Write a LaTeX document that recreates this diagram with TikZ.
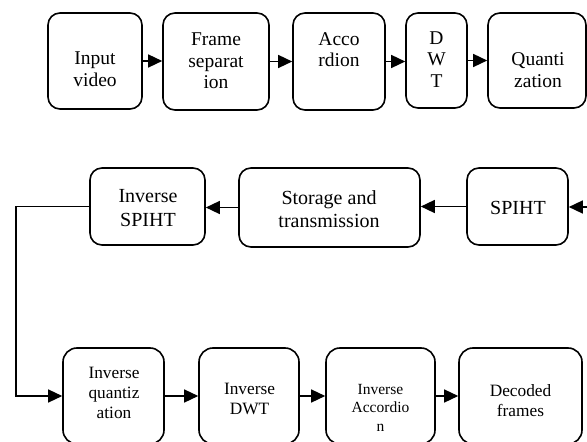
\documentclass[tikz,border=0pt]{standalone}
\usepackage{fontspec}
\setmainfont{Liberation Serif}
\usetikzlibrary{arrows.meta}
\begin{document}
\begin{tikzpicture}[x=1bp,y=-1bp,
  blk/.style={draw=black,line width=1.6bp,rounded corners=12bp,rectangle,inner sep=0pt},
  lblA/.style={align=center,inner sep=0pt,font=\fontsize{19.5bp}{21.5bp}\selectfont},
  lblB/.style={align=center,inner sep=0pt,font=\fontsize{20bp}{23.5bp}\selectfont},
  lblC/.style={align=center,inner sep=0pt,font=\fontsize{17.3bp}{20bp}\selectfont},
  lblD/.style={align=center,inner sep=0pt,font=\fontsize{15.5bp}{18.2bp}\selectfont},
  arr/.style={line width=1.4bp,-{Triangle[length=14bp,width=13bp]}},
  wire/.style={line width=1.4bp}]
\useasboundingbox (0,0) rectangle (587,442);
% top row
\node[blk,minimum width=94bp,minimum height=96bp] (inp) at (95,61) {};
\node[blk,minimum width=106bp,minimum height=97bp] (frm) at (216,61.5) {};
\node[blk,minimum width=92bp,minimum height=97bp] (acc) at (339,61.5) {};
\node[blk,minimum width=61bp,minimum height=95bp] (dwt) at (436.5,60.5) {};
\node[blk,minimum width=98bp,minimum height=95bp] (qnt) at (537,60.5) {};
\node[lblA] (tinp) at (95,69) {Input\\video};
\node[lblA] (tfrm) at (216,61) {Frame\\separat\\ion};
\node[lblA] (tacc) at (339,49.5) {Acco\\rdion};
\node[lblA] (tdwt) at (436.5,59.5) {D\\W\\T};
\node[lblA] (tqnt) at (538,70) {Quanti\\zation};
\draw[arr] (inp.east) -- (inp.east -| frm.west);
\draw[arr] (frm.east) -- (frm.east -| acc.west);
\draw[arr] (acc.east) -- (acc.east -| dwt.west);
\draw[arr] (dwt.east) -- (dwt.east -| qnt.west);
% middle row
\node[blk,minimum width=115bp,minimum height=77bp] (isp) at (147.5,206.5) {};
\node[blk,minimum width=181bp,minimum height=79bp] (sto) at (329.5,207.5) {};
\node[blk,minimum width=101bp,minimum height=77bp] (spi) at (517.5,206.5) {};
\node[lblB] (tisp) at (148,208.3) {Inverse\\SPIHT};
\node[lblB] (tsto) at (329,209) {Storage and\\transmission};
\node[lblB] (tspi) at (518,207.7) {SPIHT};
\coordinate (rin) at (590,207);
\draw[arr] (rin) -- (rin -| spi.east);
\draw[arr] (spi.west) -- (spi.west -| sto.east);
\draw[arr] (sto.west) -- (sto.west -| isp.east);
% bottom row
\node[blk,minimum width=101bp,minimum height=96bp,rounded corners=14bp] (iq) at (113.5,396) {};
\node[blk,minimum width=100bp,minimum height=96bp,rounded corners=14bp] (idwt) at (249,396) {};
\node[blk,minimum width=109bp,minimum height=96bp,rounded corners=14bp] (iacc) at (380.5,396) {};
\node[blk,minimum width=123bp,minimum height=96bp,rounded corners=14bp] (dec) at (520.5,396) {};
\node[lblC] (tiq) at (114,392.7) {Inverse\\quantiz\\ation};
\node[lblC] (tidwt) at (249.5,399.3) {Inverse\\DWT};
\node[lblD] (tiacc) at (380.5,407.8) {Inverse\\Accordio\\n};
\node[lblC] (tdec) at (520.5,400.3) {Decoded\\frames};
\coordinate (bend) at (16,206.5);
\draw[wire] (isp.west) -- (bend);
\draw[arr] (bend) |- (iq.west);
\draw[arr] (iq.east) -- (iq.east -| idwt.west);
\draw[arr] (idwt.east) -- (idwt.east -| iacc.west);
\draw[arr] (iacc.east) -- (iacc.east -| dec.west);
\end{tikzpicture}
\end{document}
